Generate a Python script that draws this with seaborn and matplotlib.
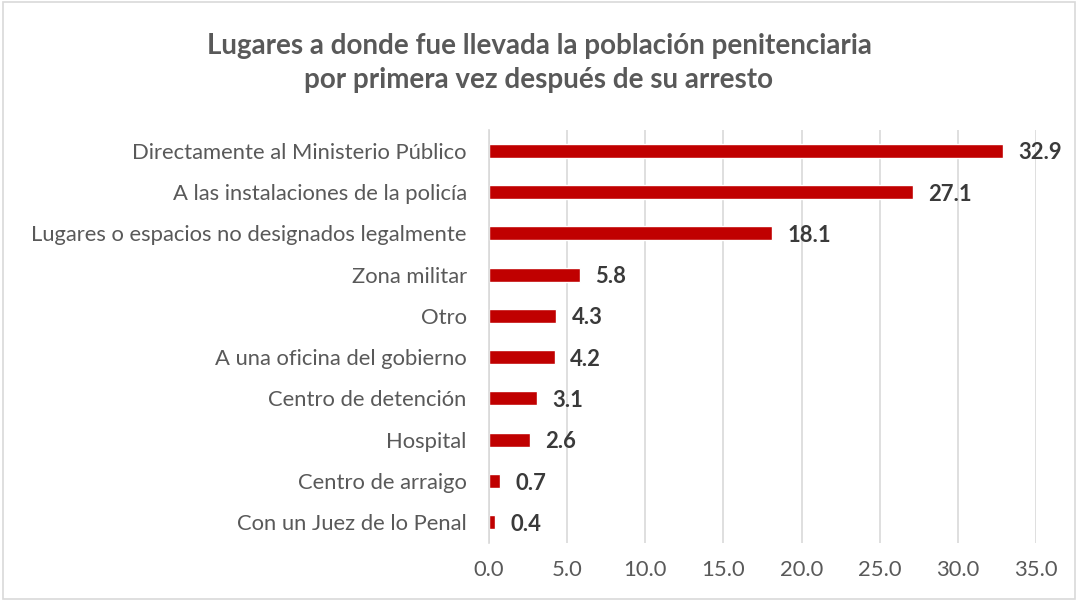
import pandas as pd
import seaborn as sb
from matplotlib import pyplot as plt
from matplotlib.patches import Rectangle

sb.set_style('white')
plt.rcParams['font.family'] = ['Lato', 'DejaVu Sans']

lugares = ['Directamente al Ministerio Público',
           'A las instalaciones de la policía',
           'Lugares o espacios no designados legalmente',
           'Zona militar',
           'Otro',
           'A una oficina del gobierno',
           'Centro de detención',
           'Hospital',
           'Centro de arraigo',
           'Con un Juez de lo Penal']
porcentaje = [32.9, 27.1, 18.1, 5.8, 4.3, 4.2, 3.1, 2.6, 0.7, 0.4]
xticks = [0, 5, 10, 15, 20, 25, 30, 35]

df = pd.DataFrame({'lugar': lugares, 'pct': porcentaje})

fig = plt.figure(figsize=(10.78, 6.01), dpi=100)
ax = fig.add_axes([0.4536, 0.0965, 0.5075, 0.6872])

sb.barplot(data=df, x='pct', y='lugar', orient='h', color='#C00000',
           saturation=1, width=0.34, ax=ax)

ax.set_xlim(0, 35)
ax.set_xticks(xticks)
ax.set_xticklabels([f'{t:.1f}' for t in xticks])
ax.set_xlabel('')
ax.set_ylabel('')
ax.grid(axis='x', color='#D9D9D9', linewidth=1.2)
ax.set_axisbelow(True)
for s in ['top', 'right', 'bottom']:
    ax.spines[s].set_visible(False)
ax.spines['left'].set_color('#D9D9D9')
ax.spines['left'].set_linewidth(1.2)
ax.tick_params(axis='both', length=0, labelsize=15.8, colors='#595959')
ax.tick_params(axis='x', pad=12)
ax.tick_params(axis='y', pad=16)

for i, v in enumerate(porcentaje):
    ax.annotate(f'{v:.1f}', (v, i), xytext=(11, -1.5), textcoords='offset points',
                va='center', ha='left', fontsize=15.8, fontweight='bold',
                color='#3a3a3a')

fig.text(0.5, 0.895, 'Lugares a donde fue llevada la población penitenciaria\n'
         'por primera vez después de su arresto',
         ha='center', va='center', fontsize=20, fontweight='bold',
         color='#595959', linespacing=1.4)

fig.patches.append(Rectangle((0.003, 0.003), 0.994, 0.994, transform=fig.transFigure,
                             fill=False, edgecolor='#D9D9D9', linewidth=1.2))

fig.savefig('out.png', dpi=100)
